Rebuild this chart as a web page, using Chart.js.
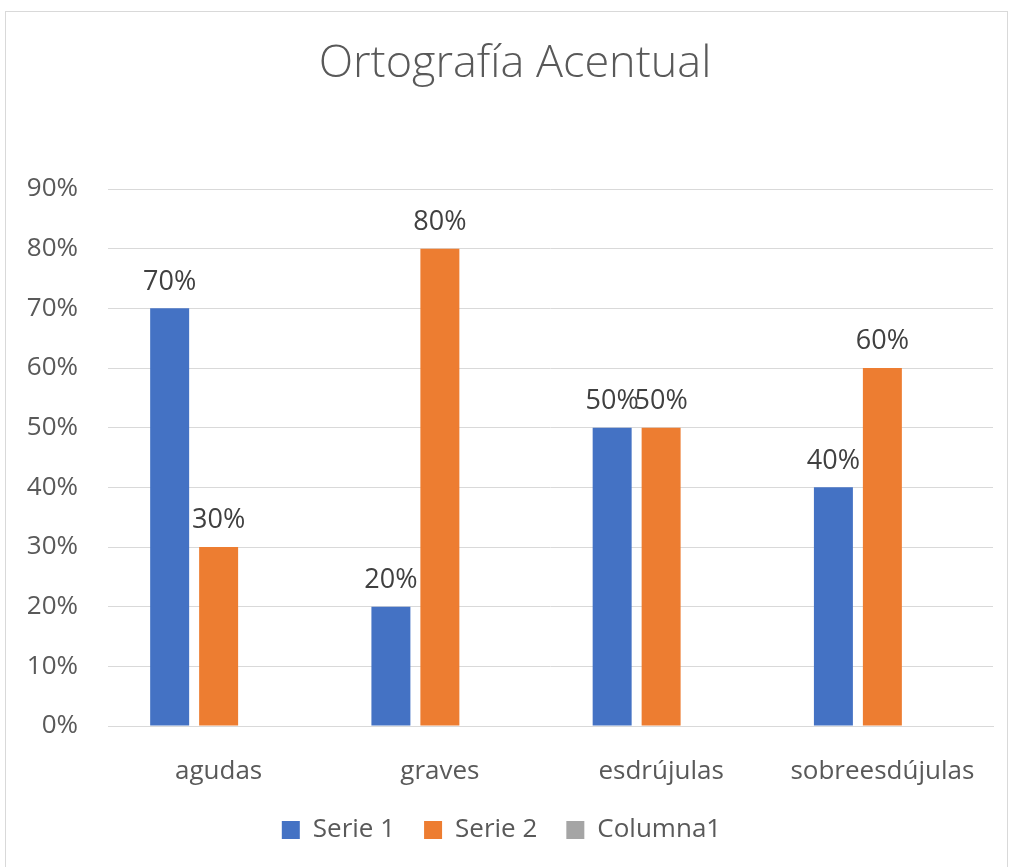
<!DOCTYPE html>
<html>
<head>
<meta charset="utf-8">
<script src="https://cdn.jsdelivr.net/npm/chart.js@4"></script>
<style>
  html, body { margin: 0; padding: 0; background: #fff; }
  #wrap { position: relative; width: 1011px; height: 867px; overflow: hidden; }
  #frame { position: absolute; left: 5px; top: 11px; width: 1001px; height: 900px; border: 1px solid #d9d9d9; }
  canvas { position: absolute; left: 0; top: 0; }
</style>
</head>
<body>
<div id="wrap">
  <div id="frame"></div>
  <canvas id="chart" width="1011" height="867"></canvas>
</div>
<script>
// datos del gráfico
const categories = ["agudas", "graves", "esdrújulas", "sobreesdújulas"];
const serie1 = [0.7, 0.2, 0.5, 0.4];
const serie2 = [0.3, 0.8, 0.5, 0.6];
const columna1 = [null, null, null, null];
const yTicks = [0, 0.1, 0.2, 0.3, 0.4, 0.5, 0.6, 0.7, 0.8, 0.9];

const pct = (v) => Math.round(v * 100) + "%";

// etiquetas de datos encima de las barras
const valueLabels = {
  id: "valueLabels",
  afterDatasetsDraw(chart) {
    const ctx = chart.ctx;
    ctx.save();
    ctx.font = "27px 'Open Sans'";
    ctx.fillStyle = "#404040";
    ctx.textAlign = "center";
    ctx.textBaseline = "bottom";
    chart.data.datasets.forEach((ds, i) => {
      const meta = chart.getDatasetMeta(i);
      meta.data.forEach((bar, j) => {
        const v = ds.data[j];
        if (v == null) return;
        ctx.fillText(pct(v), bar.x, bar.y - 13);
      });
    });
    ctx.restore();
  },
};

// título
const titleText = {
  id: "titleText",
  afterDraw(chart) {
    const ctx = chart.ctx;
    ctx.save();
    ctx.font = "300 45px 'Open Sans'";
    ctx.fillStyle = "#595959";
    ctx.textAlign = "center";
    ctx.textBaseline = "middle";
    ctx.fillText("Ortografía Acentual", 515, 64);
    ctx.restore();
  },
};

new Chart(document.getElementById("chart"), {
  type: "bar",
  data: {
    labels: categories,
    datasets: [
      { label: "Serie 1", data: serie1, backgroundColor: "#4472C4", borderWidth: 0 },
      { label: "Serie 2", data: serie2, backgroundColor: "#ED7D31", borderWidth: 0 },
      { label: "Columna1", data: columna1, backgroundColor: "#A5A5A5", borderWidth: 0 },
    ],
  },
  options: {
    responsive: false,
    animation: false,
    layout: { padding: { top: 189, right: 18, left: 10, bottom: 14 } },
    datasets: { bar: { categoryPercentage: 0.664, barPercentage: 0.796 } },
    plugins: {
      legend: {
        position: "bottom",
        labels: {
          font: { family: "'Open Sans'", size: 26 },
          color: "#595959",
          boxWidth: 18,
          boxHeight: 18,
          padding: 29,
        },
      },
      tooltip: { enabled: false },
    },
    scales: {
      x: {
        grid: { display: false },
        border: { color: "#d9d9d9", width: 1 },
        ticks: { font: { family: "'Open Sans'", size: 26 }, color: "#595959", padding: 22 },
        afterFit: (s) => { s.height = 62; },
      },
      y: {
        min: 0,
        max: 0.9,
        afterBuildTicks: (s) => { s.ticks = yTicks.map((v) => ({ value: v })); },
        grid: { color: "#d9d9d9", lineWidth: 1, drawTicks: false },
        border: { display: false },
        ticks: {
          font: { family: "'Open Sans'", size: 26 },
          color: "#595959",
          padding: 30,
          callback: (v) => pct(v),
        },
        afterFit: (s) => { s.width = 98; },
      },
    },
  },
  plugins: [valueLabels, titleText],
});
</script>
</body>
</html>
